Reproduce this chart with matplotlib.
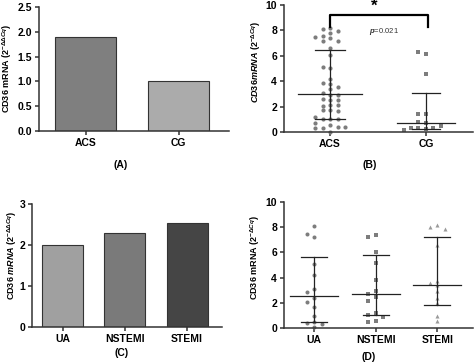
import matplotlib
matplotlib.use("Agg")
import matplotlib.pyplot as plt

plt.rcParams['font.family'] = ['Liberation Sans', 'DejaVu Sans']
plt.rcParams['font.weight'] = 'bold'
plt.rcParams['axes.labelweight'] = 'bold'
plt.rcParams['mathtext.fontset'] = 'custom'
plt.rcParams['mathtext.rm'] = 'Liberation Sans:bold'
plt.rcParams['mathtext.it'] = 'Liberation Sans:bold:italic'
plt.rcParams['mathtext.bf'] = 'Liberation Sans:bold'

# (A) mean expression
groups_a = ['ACS', 'CG']
values_a = [1.9, 1.0]
colors_a = ['#7f7f7f', '#ababab']

# (B) individual values
groups_b = ['ACS', 'CG']
acs_b = [8.19, 8.09, 7.98, 7.83, 7.56, 7.38, 7.2, 7.2, 7.51, 6.6, 6.07, 5.07, 5.15,
         4.16, 3.79, 3.84, 3.58, 3.38, 2.93, 3.06, 2.93, 2.54, 2.62, 2.54, 2.14, 2.07,
         2.14, 1.7, 1.7, 1.68, 1.02, 1.02, 1.05, 1.15, 0.57, 0.7, 0.31, 0.39, 0.31, 0.39, 0.0]
cg_b = [6.15, 6.26, 4.58, 1.44, 1.44, 0.71, 0.76, 0.24, 0.31, 0.31, 0.31, 0.45, 0.18]
median_b = [2.97, 0.7]
q1_b = [1.05, 0.25]
q3_b = [6.45, 3.05]

# (C) mean expression by subgroup
groups_c = ['UA', 'NSTEMI', 'STEMI']
values_c = [2.0, 2.3, 2.53]
colors_c = ['#a0a0a0', '#7a7a7a', '#454545']

# (D) individual values by subgroup
groups_d = ['UA', 'NSTEMI', 'STEMI']
ua_d = [8.06, 7.22, 7.48, 5.1, 4.23, 3.1, 2.83, 2.38, 2.03, 1.67, 0.98, 0.48, 0.4, 0.32, 0.08]
nstemi_d = [7.35, 7.22, 6.03, 5.16, 3.83, 2.96, 2.72, 2.5, 2.17, 1.19, 1.0, 0.84, 0.58, 0.45]
stemi_d = [8.2, 8.02, 7.86, 6.56, 3.75, 3.57, 3.38, 2.96, 2.38, 1.95, 0.92, 0.52]
median_d = [2.55, 2.72, 3.38]
q1_d = [0.45, 1.06, 1.85]
q3_d = [5.6, 5.82, 7.22]

W, H = 474, 363
fig = plt.figure(figsize=(W / 100, H / 100), dpi=100)


def add_ax(l, t, r, b):
    return fig.add_axes([l / W, 1 - b / H, (r - l) / W, (b - t) / H])


def style(ax):
    for s in ['top', 'right']:
        ax.spines[s].set_visible(False)
    for s in ['left', 'bottom']:
        ax.spines[s].set_linewidth(1.1)
        ax.spines[s].set_color('#333333')
    ax.tick_params(width=1.1, length=3, labelsize=7.5, pad=2, color='#333333')
    for lab in ax.get_xticklabels() + ax.get_yticklabels():
        lab.set_fontweight('bold')


def swarm(vals, ypx, xpx, step=7.5, d=4.5):
    placed, offs = [], []
    for v in vals:
        y = v * ypx
        for k in [0, -1, 1, -2, 2, -3, 3]:
            x = k * step
            if all(abs(x - px) > step * 0.6 or abs(y - py) >= d for px, py in placed):
                break
        placed.append((x, y))
        offs.append(x / xpx)
    return offs


def column_scatter(ax, pos, vals, med, q1, q3, marker, color, ypx, xpx, mw, cw, ms):
    offs = swarm(vals, ypx, xpx)
    ax.plot([pos + o for o in offs], vals, linestyle='none', marker=marker,
            color=color, markersize=ms, markeredgewidth=0, zorder=2, clip_on=False)
    ax.plot([pos, pos], [q1, q3], color='#222222', lw=0.9, zorder=3)
    ax.plot([pos - mw, pos + mw], [med, med], color='#222222', lw=0.9, zorder=3)
    ax.plot([pos - cw, pos + cw], [q1, q1], color='#222222', lw=0.9, zorder=3)
    ax.plot([pos - cw, pos + cw], [q3, q3], color='#222222', lw=0.9, zorder=3)


# ---- A
ax = add_ax(39, 7, 229, 131)
ax.bar(range(len(groups_a)), values_a, width=0.66, color=colors_a,
       edgecolor='#333333', linewidth=0.8)
ax.set_xlim(-0.5, 1.54)
ax.set_ylim(0, 2.5)
ax.set_yticks([0, 0.5, 1.0, 1.5, 2.0, 2.5])
ax.set_yticklabels(['0.0', '0.5', '1.0', '1.5', '2.0', '2.5'])
ax.set_xticks(range(len(groups_a)))
ax.set_xticklabels(groups_a)
ax.set_ylabel(r'CD36 mRNA (2$^{-\Delta\Delta Cq}$)', fontsize=6.5)
ax.yaxis.set_label_coords(-0.13, 0.51)
style(ax)
fig.text(121 / W, 1 - 165 / H, '(A)', ha='center', va='center', fontsize=7.5, fontweight='bold')

# ---- B
ax = add_ax(284, 5, 473, 132)
ypx_b, xpx_b = 12.7, 96
column_scatter(ax, 0, acs_b, median_b[0], q1_b[0], q3_b[0], 'o', '#7d7d7d',
               ypx_b, xpx_b, 0.33, 0.16, 3.0)
column_scatter(ax, 1, cg_b, median_b[1], q1_b[1], q3_b[1], 's', '#7d7d7d',
               ypx_b, xpx_b, 0.30, 0.15, 2.9)
ax.set_xlim(-0.48, 1.49)
ax.set_ylim(0, 10)
ax.set_yticks([0, 2, 4, 6, 8, 10])
ax.set_xticks([0, 1])
ax.set_xticklabels(groups_b)
ax.set_ylabel(r'$\mathit{CD36mRNA}$ $\mathit{(2^{-\Delta Cq})}$', fontsize=6.5)
ax.yaxis.set_label_coords(-0.11, 0.55)
ax.plot([0, 0, 1.02, 1.02], [8.3, 9.2, 9.2, 8.3], color='black', lw=1.6, clip_on=False)
ax.text(0.46, 9.9, '*', ha='center', va='center', fontsize=12, fontweight='bold')
ax.text(0.56, 7.9, r'$\mathit{p}$=0.021', ha='center', va='center', fontsize=5.5,
        fontweight='normal', color='#333333')
style(ax)
fig.text(370 / W, 1 - 165 / H, '(B)', ha='center', va='center', fontsize=7.5, fontweight='bold')

# ---- C
ax = add_ax(32, 204, 222, 327)
ax.bar(range(len(groups_c)), values_c, width=0.66, color=colors_c,
       edgecolor='#333333', linewidth=0.8)
ax.set_xlim(-0.49, 2.56)
ax.set_ylim(0, 3)
ax.set_yticks([0, 1, 2, 3])
ax.set_xticks(range(len(groups_c)))
ax.set_xticklabels(groups_c)
ax.set_ylabel(r'CD36 $\mathit{mRNA}$ $\mathit{(2^{-\Delta\Delta Cq})}$', fontsize=6.5)
ax.yaxis.set_label_coords(-0.07, 0.585)
style(ax)
fig.text(122 / W, 1 - 353 / H, '(C)', ha='center', va='center', fontsize=7.5, fontweight='bold')

# ---- D
ax = add_ax(284, 202, 473, 328)
ypx_d, xpx_d = 12.6, 62
sets_d = [ua_d, nstemi_d, stemi_d]
markers_d = ['o', 's', '^']
colors_d = ['#7d7d7d', '#7d7d7d', '#9a9a9a']
for i, vals in enumerate(sets_d):
    column_scatter(ax, i, vals, median_d[i], q1_d[i], q3_d[i], markers_d[i], colors_d[i],
                   ypx_d, xpx_d, 0.39, 0.21, 2.9)
ax.set_xlim(-0.49, 2.58)
ax.set_ylim(0, 10)
ax.set_yticks([0, 2, 4, 6, 8, 10])
ax.set_xticks(range(len(groups_d)))
ax.set_xticklabels(groups_d)
ax.set_ylabel(r'CD36 mRNA (2$^{-\Delta Cq}$)', fontsize=6.5)
ax.yaxis.set_label_coords(-0.115, 0.56)
style(ax)
fig.text(369 / W, 1 - 357 / H, '(D)', ha='center', va='center', fontsize=7.5, fontweight='bold')

fig.savefig('out.png', dpi=100, facecolor='white')
